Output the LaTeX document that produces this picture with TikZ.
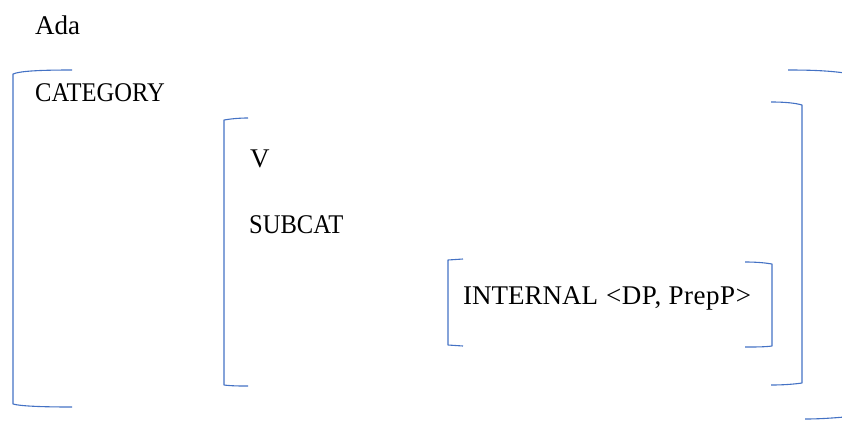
\documentclass[tikz,border=0pt]{standalone}
\usepackage{fontspec}
\setmainfont{Liberation Serif}
\definecolor{brk}{HTML}{4472C4}
\begin{document}
\begin{tikzpicture}[x=1pt,y=-1pt,
  lbl/.style={anchor=base west,inner sep=0pt,font=\fontsize{27}{30}\selectfont},
  capl/.style={lbl,xscale=0.91,transform shape},
  brack/.style={draw=brk,line width=1.1pt,line join=round}]
\useasboundingbox (0,0) rectangle (842,421);
% texts
\node[lbl] (ada) at (35,34) {Ada};
\node[capl] (cat) at (35,101) {CATEGORY};
\node[lbl] (v) at (250,167) {V};
\node[capl] (subcat) at (249,233) {SUBCAT};
\node[lbl] (internal) at (463,304) {INTERNAL\hspace{8pt}{\addfontfeatures{LetterSpace=2}<DP, PrepP>}};
% outer bracket
\draw[brack] (72,70) .. controls (40,70) and (20,71) .. (13,74) -- (13,404) .. controls (20,406) and (40,407) .. (72,407);
\draw[brack] (788,70) .. controls (815,70) and (830,71) .. (845,73);
\draw[brack] (805,419) .. controls (820,419) and (832,418) .. (845,417);
% V bracket
\draw[brack] (248,118) .. controls (238,118) and (230,119) .. (224,120) -- (224,385) .. controls (232,386) and (240,386) .. (248,386);
\draw[brack] (771,102) .. controls (785,102) and (795,103) .. (802,105) -- (802,383) .. controls (795,384) and (785,385) .. (771,385);
% INTERNAL bracket
\draw[brack] (463,259) -- (448,260) -- (448,345) -- (463,346);
\draw[brack] (745,262) .. controls (758,262) and (766,263) .. (772,264) -- (772,346) .. controls (765,347) and (755,347) .. (745,347);
\end{tikzpicture}
\end{document}
